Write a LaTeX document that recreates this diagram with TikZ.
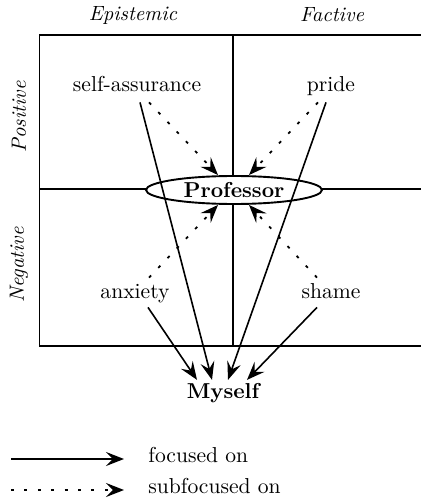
\documentclass[tikz,border=0pt]{standalone}
\usepackage{tikz}
\usetikzlibrary{arrows.meta,positioning,calc,shapes.geometric}
\tikzset{
  emo/.style={font=\fontsize{10.8}{13}\selectfont,inner sep=1.5pt,
    text height=7.5pt,text depth=2pt,anchor=base},
  head/.style={font=\fontsize{10.3}{12}\selectfont\itshape,inner sep=1pt},
  hub/.style={font=\fontsize{10.8}{13}\selectfont\bfseries,inner sep=1.5pt},
  frame/.style={line width=0.95pt},
  focus/.style={-{Stealth[length=9pt,width=7pt,inset=3.4pt]},line width=0.8pt},
  subfocus/.style={-{Stealth[length=9pt,width=7pt,inset=3.4pt]},line width=0.9pt,
    dash pattern=on 1.5pt off 5.2pt},
}
\begin{document}
\begin{tikzpicture}[x=0.5pt,y=-0.5pt]
  \useasboundingbox (0,0) rectangle (421,502);
  % quadrant frame
  \draw[frame] (421,35) -- (39.5,35) -- (39.5,345.7) -- (421,345.7);
  \draw[frame] (232.7,35) -- (232.7,345.7);
  \draw[frame] (39.5,189) -- (421,189);

  % column and row heads
  \node[head] (epist) at (133,15) {Epistemic};
  \node[head] (fact) at (332,15) {Factive};
  \node[head,rotate=90] (pos) at (19,117) {Positive};
  \node[head,rotate=90] (neg) at (19,265) {Negative};

  % emotions
  \node[emo] (selfass) at (137,92) {self-assurance};
  \node[emo] (pride) at (331,92) {pride};
  \node[emo] (anxiety) at (135,298) {anxiety};
  \node[emo] (shame) at (331,298) {shame};

  \node[hub,ellipse,draw,frame,fill=white,minimum width=88pt,minimum height=14pt,
    inner sep=0pt] (prof) at (234,190) {Professor};
  \node[hub] (myself) at (223,393) {Myself};

  % focused on
  \draw[focus] ($(selfass.south)+(3,3)$) -- ($(myself.north)+(-11,0)$);
  \draw[focus] ($(pride.south)+(-5,3)$) -- ($(myself.north)+(5,0)$);
  \draw[focus] ($(anxiety.south)+(13,2)$) -- ($(myself.north)+(-26,0)$);
  \draw[focus] ($(shame.south)+(-14,2)$) -- ($(myself.north)+(24,0)$);

  % subfocused on
  \draw[subfocus] ($(selfass.south)+(12,3)$) -- ($(prof.north)+(-16,0)$);
  \draw[subfocus] ($(pride.south)+(-13,3)$) -- ($(prof.north)+(15,0)$);
  \draw[subfocus] ($(anxiety.north)+(14,-2)$) -- ($(prof.south)+(-16,0)$);
  \draw[subfocus] ($(shame.north)+(-14,-2)$) -- ($(prof.south)+(15,0)$);

  % legend
  \coordinate (fs) at (11,459);
  \coordinate (fe) at (124,459);
  \coordinate (ss) at (11,490);
  \coordinate (se) at (124,490);
  \node[emo,anchor=west] (flbl) at (145,457) {focused on};
  \node[emo,anchor=west] (slbl) at (145,488) {subfocused on};
  \draw[focus] (fs) -- (fe);
  \draw[subfocus] (ss) -- (se);
\end{tikzpicture}
\end{document}
